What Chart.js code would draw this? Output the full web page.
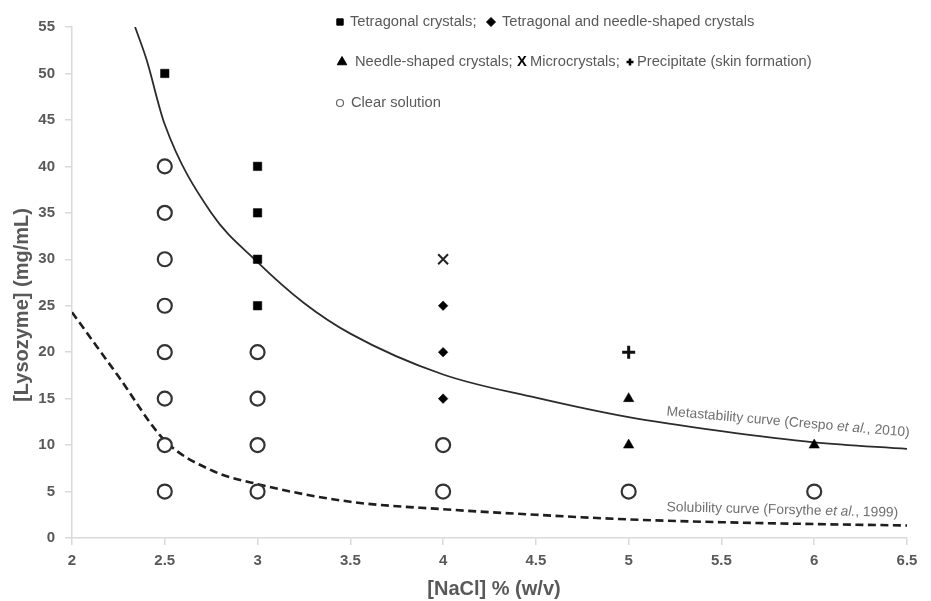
<!DOCTYPE html>
<html><head><meta charset="utf-8">
<script src="https://cdn.jsdelivr.net/npm/chart.js@4.4.0/dist/chart.umd.min.js"></script>
<style>html,body{margin:0;padding:0;background:#fff;}</style>
</head><body>
<canvas id="c" width="931" height="601"></canvas>
<script>
// ---- data ----
const tetragonalX = [2.5, 3, 3, 3, 3];
const tetragonalY = [50, 40, 35, 30, 25];
const tetraNeedleX = [4, 4, 4];
const tetraNeedleY = [25, 20, 15];
const needleX = [5, 5, 6];
const needleY = [15, 10, 10];
const microX = [4];
const microY = [30];
const precipX = [5];
const precipY = [20];
const clearX = [2.5, 2.5, 2.5, 2.5, 2.5, 2.5, 2.5, 2.5, 3, 3, 3, 3, 4, 4, 5, 6];
const clearY = [5, 10, 15, 20, 25, 30, 35, 40, 5, 10, 15, 20, 5, 10, 5, 5];
const metaX = [2.34, 2.4, 2.5, 2.75, 3, 3.25, 3.5, 4, 4.5, 5, 5.5, 6, 6.5];
const metaY = [55, 51.6, 44.5, 35, 29.7, 25.3, 22, 17.6, 15.1, 13, 11.5, 10.3, 9.6];
const solX = [2, 2.25, 2.5, 2.75, 3, 3.5, 4, 4.5, 5, 5.5, 6, 6.5];
const solY = [24.3, 17.4, 10.5, 7.3, 5.8, 3.9, 3.1, 2.5, 2.0, 1.7, 1.5, 1.35];
const xTitle = '[NaCl] % (w/v)';
const yTitle = '[Lysozyme] (mg/mL)';
const metaLabel = ['Metastability curve (Crespo ', 'et al.', ', 2010)'];
const solLabel = ['Solubility curve (Forsythe ', 'et al.', ', 1999)'];

const pts = (xs, ys) => xs.map((x, i) => ({x: x, y: ys[i]}));
const FONT = "'Liberation Sans', Arial, sans-serif";

const overlay = {
  id: 'overlay',
  afterDraw(chart) {
    const ctx = chart.ctx;
    const xs = chart.scales.x, ys = chart.scales.y;
    const H = Chart.helpers;
    ctx.save();
    // axis titles
    ctx.fillStyle = '#595959';
    ctx.font = 'bold 20px ' + FONT;
    ctx.textAlign = 'center';
    ctx.textBaseline = 'middle';
    ctx.fillText(xTitle, 494, 589);
    ctx.save();
    ctx.translate(22, 305);
    ctx.rotate(-Math.PI / 2);
    ctx.fillText(yTitle, 0, 0);
    ctx.restore();

    // legend
    ctx.textAlign = 'left';
    ctx.font = '14.7px ' + FONT;
    const sym = (style, x, y, r, bw, fill, stroke) => {
      ctx.fillStyle = fill; ctx.strokeStyle = stroke; ctx.lineWidth = bw;
      H.drawPoint(ctx, {pointStyle: style, radius: r, borderWidth: bw, rotation: 0}, x, y);
    };
    sym('rect', 340, 22, 4.5, 1, '#000', '#000');
    sym('rectRot', 491, 22, 4.5, 1, '#000', '#000');
    sym('triangle', 342, 62, 5.5, 1, '#000', '#000');
    sym('cross', 630, 62, 3.5, 2.5, '#000', '#000');
    sym('circle', 340, 103, 3.5, 1.2, '#fff', '#666');
    ctx.fillStyle = '#595959';
    ctx.fillText('Tetragonal crystals;', 350, 22);
    ctx.fillText('Tetragonal and needle-shaped crystals', 502, 22);
    ctx.fillText('Needle-shaped crystals;', 355, 62);
    ctx.fillText('Microcrystals;', 530, 62);
    ctx.fillText('Precipitate (skin formation)', 637, 62);
    ctx.fillText('Clear solution', 351, 103);
    ctx.fillStyle = '#000';
    ctx.font = 'bold 14.7px ' + FONT;
    ctx.fillText('X', 517, 62);

    // curve labels
    const drawLabel = (parts, vx, vy, angDeg) => {
      ctx.save();
      ctx.translate(xs.getPixelForValue(vx), ys.getPixelForValue(vy));
      ctx.rotate(angDeg * Math.PI / 180);
      ctx.fillStyle = '#707070';
      ctx.textAlign = 'left';
      ctx.textBaseline = 'middle';
      let cx = 0;
      parts.forEach((p, i) => {
        ctx.font = (i === 1 ? 'italic ' : '') + '13.8px ' + FONT;
        ctx.fillText(p, cx, 0);
        cx += ctx.measureText(p).width;
      });
      ctx.restore();
    };
    drawLabel(metaLabel, 5.205, 13.6, 5);
    drawLabel(solLabel, 5.205, 3.3, 1.4);
    ctx.restore();
  }
};

const axisCommon = {
  border: {display: true, color: '#d9d9d9', width: 1.5},
  grid: {display: true, drawOnChartArea: false, drawTicks: true, tickLength: 7, color: '#d9d9d9', lineWidth: 1.5},
};
const plainNum = v => String(Math.round(v * 100) / 100);

new Chart(document.getElementById('c'), {
  type: 'scatter',
  data: {
    datasets: [
      {label: 'Metastability curve (Crespo et al., 2010)', type: 'line', data: pts(metaX, metaY),
       borderColor: '#2b2b2b', borderWidth: 1.8, pointRadius: 0, fill: false, cubicInterpolationMode: 'monotone', order: 2},
      {label: 'Solubility curve (Forsythe et al., 1999)', type: 'line', data: pts(solX, solY),
       borderColor: '#1e1e1e', borderWidth: 2.6, borderDash: [8, 4.5], pointRadius: 0, fill: false, cubicInterpolationMode: 'monotone', order: 2},
      {label: 'Clear solution', data: pts(clearX, clearY), pointStyle: 'circle', pointRadius: 7,
       borderWidth: 2.2, borderColor: '#333', backgroundColor: '#fff', order: 1},
      {label: 'Tetragonal crystals', data: pts(tetragonalX, tetragonalY), pointStyle: 'rect', pointRadius: 6,
       borderWidth: 0.5, borderColor: '#000', backgroundColor: '#000', order: 1},
      {label: 'Tetragonal and needle-shaped crystals', data: pts(tetraNeedleX, tetraNeedleY), pointStyle: 'rectRot', pointRadius: 4.8,
       borderWidth: 0.5, borderColor: '#000', backgroundColor: '#000', order: 1},
      {label: 'Needle-shaped crystals', data: pts(needleX, needleY), pointStyle: 'triangle', pointRadius: 6,
       borderWidth: 0.5, borderColor: '#000', backgroundColor: '#000', order: 1},
      {label: 'Microcrystals', data: pts(microX, microY), pointStyle: 'crossRot', pointRadius: 7,
       borderWidth: 2, borderColor: '#222', backgroundColor: '#222', order: 1},
      {label: 'Precipitate (skin formation)', data: pts(precipX, precipY), pointStyle: 'cross', pointRadius: 6.5,
       borderWidth: 3, borderColor: '#111', backgroundColor: '#111', order: 1}
    ]
  },
  options: {
    responsive: false,
    animation: false,
    devicePixelRatio: 1,
    layout: {padding: {left: 0, right: 24, top: 27, bottom: 0}},
    plugins: {legend: {display: false}, tooltip: {enabled: false}},
    scales: {
      x: Object.assign({}, axisCommon, {
        type: 'linear', min: 2, max: 6.5,
        ticks: {stepSize: 0.5, padding: 7, color: '#595959', font: {family: FONT, size: 15, weight: 'bold'}, callback: plainNum},
        afterFit(s) { s.height = 63; s.paddingLeft = 0; s.paddingRight = 0; }
      }),
      y: Object.assign({}, axisCommon, {
        type: 'linear', min: 0, max: 55,
        ticks: {stepSize: 5, padding: 10, color: '#595959', font: {family: FONT, size: 15, weight: 'bold'}, callback: plainNum},
        afterFit(s) { s.width = 72; s.paddingTop = 0; s.paddingBottom = 0; }
      })
    }
  },
  plugins: [overlay]
});
</script>
</body></html>
